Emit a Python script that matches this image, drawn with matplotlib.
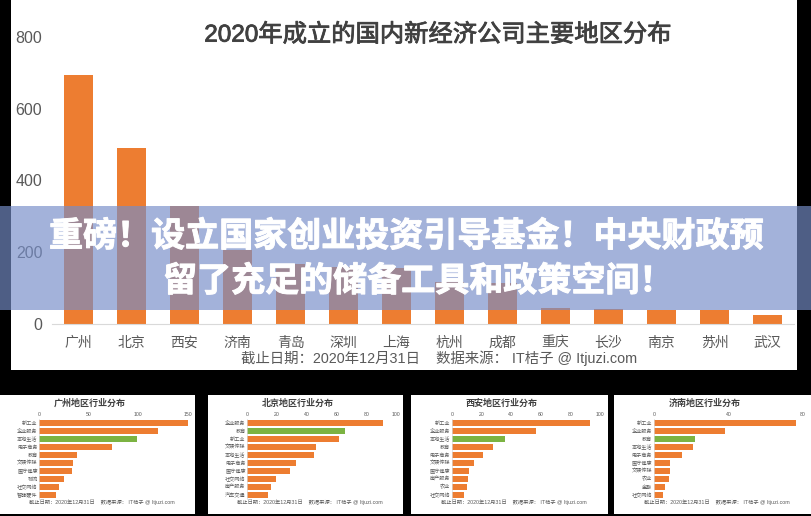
import matplotlib
matplotlib.use('Agg')
import matplotlib.pyplot as plt
import matplotlib.patheffects as pe
from matplotlib.patches import Rectangle

plt.rcParams['font.family'] = ['Liberation Sans', 'Noto Sans CJK SC', 'DejaVu Sans']

W, H = 811, 516
ORANGE = '#ED7D31'
GREEN = '#7CB342'

cities = ['广州', '北京', '西安', '济南', '青岛', '深圳', '上海', '杭州', '成都', '重庆', '长沙', '南京', '苏州', '武汉']
city_counts = [694, 490, 330, 206, 167, 160, 155, 117, 114, 45, 42, 39, 39, 25]
main_title = '2020年成立的国内新经济公司主要地区分布'
footer = '截止日期：2020年12月31日    数据来源： IT桔子 @ Itjuzi.com'
banner_lines = ['重磅！设立国家创业投资引导基金！中央财政预', '留了充足的储备工具和政策空间！']

gz_labels = ['新工业', '企业服务', '本地生活', '电子商务', '教育', '文娱传媒', '医疗健康', '物流', '社交网络', '智能硬件']
gz_values = [150, 120, 99, 73, 38, 34, 33, 25, 20, 17]
bj_labels = ['企业服务', '教育', '新工业', '文娱传媒', '本地生活', '电子商务', '医疗健康', '社交网络', '房产服务', '汽车交通']
bj_values = [91, 66, 62, 46, 45, 33, 29, 19, 16, 14]
xa_labels = ['新工业', '企业服务', '本地生活', '教育', '电子商务', '文娱传媒', '医疗健康', '房产服务', '农业', '社交网络']
xa_values = [93, 57, 36, 28, 21, 15, 12, 11, 10, 8]
jn_labels = ['新工业', '企业服务', '教育', '本地生活', '电子商务', '医疗健康', '文娱传媒', '农业', '金融', '社交网络']
jn_values = [76, 38, 22, 21, 15, 9, 9, 8, 6, 5]


def px_axes(fig, x0, y0, x1, y1):
    # pixel box, y measured from the top of the image
    ax = fig.add_axes([x0 / W, 1 - y1 / H, (x1 - x0) / W, (y1 - y0) / H])
    ax.patch.set_visible(False)
    return ax


def white_box(fig, x0, y0, x1, y1):
    fig.add_artist(Rectangle((x0 / W, 1 - y1 / H), (x1 - x0) / W, (y1 - y0) / H,
                             transform=fig.transFigure, fc='white', ec='none', zorder=-1))


def small_panel(fig, box, axis_x, title, labels, values, xmax, xticks, green):
    white_box(fig, *box)
    ax = px_axes(fig, axis_x[0], 418.7, axis_x[1], 498.7)
    colors = [ORANGE] * len(values)
    colors[green] = GREEN
    ax.barh(range(len(values)), values, height=0.74, color=colors)
    ax.set_xlim(0, xmax)
    ax.set_ylim(len(values) - 0.5, -0.5)
    ax.set_yticks(range(len(labels)), labels)
    ax.set_xticks(xticks)
    ax.xaxis.tick_top()
    ax.tick_params(length=0, labelsize=3.7, labelcolor='#595959', pad=1.2)
    for s in ['right', 'top', 'bottom']:
        ax.spines[s].set_visible(False)
    ax.spines['left'].set_color('#D9D9D9')
    ax.spines['left'].set_linewidth(0.5)
    mid = (box[0] + box[2]) / 2
    fig.text((mid - 8) / W, 1 - 403 / H, title, ha='center', va='center', fontsize=6.5,
             fontweight='bold', color='#404040')
    fig.text((mid + 4) / W, 1 - 502 / H, footer, ha='center', va='center', fontsize=3.8, color='#595959')


fig = plt.figure(figsize=(W / 100, H / 100), dpi=100, facecolor='black')

white_box(fig, 11, 0, 797, 369.5)
ax = px_axes(fig, 52, 37, 794, 324)
ax.bar(cities, city_counts, width=0.55, color=ORANGE)
ax.set_xlim(-0.5, len(cities) - 0.5)
ax.set_ylim(0, 800)
ax.set_yticks([0, 200, 400, 600, 800])
ax.tick_params(length=0, colors='#595959')
ax.tick_params(axis='y', labelsize=11.5, pad=7)
ax.tick_params(axis='x', labelsize=10, pad=16.5)
for lab in ax.get_xticklabels():
    lab.set_va('baseline')
for s in ['left', 'right', 'top']:
    ax.spines[s].set_visible(False)
ax.spines['bottom'].set_color('#D9D9D9')
fig.text(437.5 / W, 1 - 35 / H, main_title, ha='center', va='center', fontsize=17.5,
         color='#404040', path_effects=[pe.withStroke(linewidth=0.6, foreground='#404040')])
fig.text(439 / W, 1 - 358.5 / H, footer, ha='center', va='center', fontsize=10.4, color='#595959')

small_panel(fig, (0, 395, 195, 514), (39.3, 188), '广州地区行业分布', gz_labels, gz_values, 150, [0, 50, 100, 150], 2)
small_panel(fig, (208, 395, 403, 514), (247.3, 396), '北京地区行业分布', bj_labels, bj_values, 100, [0, 20, 40, 60, 80, 100], 1)
small_panel(fig, (411, 395, 608, 514), (451.7, 600), '西安地区行业分布', xa_labels, xa_values, 100, [0, 20, 40, 60, 80, 100], 2)
small_panel(fig, (614, 395, 811, 514), (653.7, 803), '济南地区行业分布', jn_labels, jn_values, 80, [0, 40, 80], 2)

fig.add_artist(Rectangle((0, 1 - 310 / H), 1, 104 / H, transform=fig.transFigure,
                         fc='#768DC8', alpha=0.67, ec='none', zorder=10))
heavy = [pe.withStroke(linewidth=0.7, foreground='white')]
fig.text(406 / W, 1 - 237 / H, banner_lines[0], ha='center', va='center', fontsize=24.5,
         fontweight='black', color='white', zorder=11, path_effects=heavy)
fig.text(418 / W, 1 - 282 / H, banner_lines[1], ha='center', va='center', fontsize=24.5,
         fontweight='black', color='white', zorder=11, path_effects=heavy)

fig.savefig('out.png', dpi=100, facecolor='black')
